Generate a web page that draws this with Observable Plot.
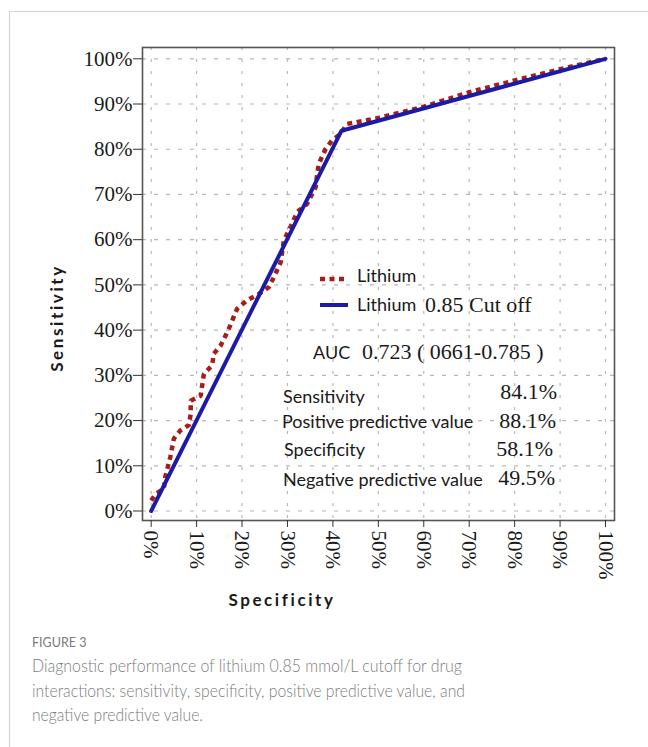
<!DOCTYPE html>
<html><head><meta charset="utf-8">
<script src="https://cdn.jsdelivr.net/npm/d3@7"></script>
<script src="https://cdn.jsdelivr.net/npm/@observablehq/plot@0.6"></script>
<style>
body{margin:0;background:#fff;}
#wrap{position:relative;width:648px;height:747px;overflow:hidden;background:#fff;}
#card{position:absolute;left:9px;top:11px;width:700px;height:800px;border-left:1px solid #d2d2d2;border-top:1px solid #d2d2d2;}
#chart{position:absolute;left:0;top:0;}
#overlay{position:absolute;left:0;top:0;pointer-events:none;}
</style></head><body>
<div id="wrap"><div id="card"></div><div id="chart"></div><svg id="overlay" width="648" height="747"></svg></div>
<script>
// ---- data ----
const tickValues = [0, 0.1, 0.2, 0.3, 0.4, 0.5, 0.6, 0.7, 0.8, 0.9, 1.0];
// Lithium ROC curve (1 - specificity on x, sensitivity on y)
const lithiumX = [0, 0.010, 0.028, 0.031, 0.042, 0.050, 0.064, 0.083, 0.087, 0.087, 0.109, 0.116, 0.134, 0.138, 0.153, 0.171, 0.189, 0.211, 0.237, 0.259, 0.270, 0.285, 0.292, 0.310, 0.321, 0.343, 0.362, 0.365, 0.369, 0.384, 0.398, 0.417, 0.431, 0.50, 0.60, 0.70, 0.80, 0.90, 1.0];
const lithiumY = [0.023, 0.038, 0.049, 0.075, 0.119, 0.160, 0.178, 0.190, 0.215, 0.244, 0.255, 0.303, 0.322, 0.348, 0.366, 0.403, 0.447, 0.466, 0.480, 0.495, 0.517, 0.550, 0.598, 0.635, 0.661, 0.679, 0.716, 0.742, 0.768, 0.801, 0.819, 0.834, 0.856, 0.869, 0.894, 0.926, 0.952, 0.977, 1.0];
// Lithium 0.85 cut-off
const cutoffX = [0, 0.419, 1];
const cutoffY = [0, 0.841, 1];
const seriesNames = ["Lithium", "Lithium"];
const cutoffSuffix = "0.85 Cut off";
const aucLabel = "AUC";
const aucValue = "0.723 ( 0661-0.785 )";
const statLabels = ["Sensitivity", "Positive predictive value", "Specificity", "Negative predictive value"];
const statValues = ["84.1%", "88.1%", "58.1%", "49.5%"];
const xTitle = "Specificity";
const yTitle = "Sensitivity";
const figLabel = "FIGURE 3";
const captionLines = [
  "Diagnostic performance of lithium 0.85 mmol/L cutoff for drug",
  "interactions: sensitivity, specificity, positive predictive value, and",
  "negative predictive value."
];

const RED = "#a61e1a", BLUE = "#1b1ba6";
const lithium = lithiumX.map((x, i) => ({x, y: lithiumY[i]}));
const cutoff = cutoffX.map((x, i) => ({x, y: cutoffY[i]}));
const pct = d3.format(".0%");

const chart = Plot.plot({
  width: 648,
  height: 620,
  marginLeft: 142,
  marginRight: 34,
  marginTop: 47,
  marginBottom: 100,
  style: {fontFamily: "'Liberation Serif', serif", fontSize: "21px", color: "#1a1a1a", background: "transparent"},
  x: {domain: [-0.0191, 1.0198]},
  y: {domain: [-0.021, 1.025]},
  marks: [
    Plot.gridX(tickValues, {stroke: "#b8b8b8", strokeOpacity: 1, strokeDasharray: "3,9", strokeWidth: 1.2}),
    Plot.gridY(tickValues, {stroke: "#b8b8b8", strokeOpacity: 1, strokeDasharray: "4,8", strokeWidth: 1.2}),
    Plot.line(lithium, {x: "x", y: "y", stroke: RED, strokeWidth: 4.5, strokeDasharray: "5,4.5", strokeLinecap: "butt", strokeLinejoin: "miter", curve: "linear"}),
    Plot.line(cutoff, {x: "x", y: "y", stroke: BLUE, strokeWidth: 4}),
    Plot.frame({stroke: "#555", strokeWidth: 1.6}),
    Plot.axisY(tickValues, {tickFormat: pct, tickSize: 9, tickPadding: 1, fontSize: 21, label: null, stroke: "#333"}),
    Plot.axisX(tickValues, {tickFormat: pct, tickSize: 7, tickPadding: 3, tickRotate: 90, fontSize: 21, label: null, stroke: "#333"})
  ]
});
document.getElementById("chart").appendChild(chart);

// ---- overlay annotations ----
const ov = d3.select("#overlay");
const SANS = "Lato, 'Open Sans', sans-serif";
const SERIF = "'Liberation Serif', serif";
function txt(x, y, s, o = {}) {
  const t = ov.append("text").attr("x", x).attr("y", y).text(s)
    .attr("font-family", o.family || SANS).attr("font-size", o.size || 18)
    .attr("fill", o.fill || "#1a1a1a").attr("font-weight", o.weight || 400)
    .attr("text-anchor", o.anchor || "start")
    .attr("letter-spacing", o.ls || 0);
  if (o.len) t.attr("textLength", o.len).attr("lengthAdjust", "spacingAndGlyphs");
  return t;
}
// legend
ov.append("line").attr("x1", 320).attr("x2", 348).attr("y1", 279).attr("y2", 279)
  .attr("stroke", RED).attr("stroke-width", 4.5).attr("stroke-dasharray", "5,4.5");
ov.append("line").attr("x1", 320).attr("x2", 348).attr("y1", 305).attr("y2", 305)
  .attr("stroke", BLUE).attr("stroke-width", 4);
txt(357, 282, seriesNames[0]);
txt(357, 311, seriesNames[1]);
txt(425, 312, cutoffSuffix, {family: SERIF, size: 22});
// AUC
txt(313, 359, aucLabel);
txt(362, 359, aucValue, {family: SERIF, size: 22});
// stats
const labX = [283, 282, 284, 283];
const labY = [403, 428, 456, 486];
const valX = [557, 556, 553, 555];
const valY = [399, 428, 456, 485];
statLabels.forEach((s, i) => txt(labX[i], labY[i], s));
statValues.forEach((s, i) => txt(valX[i], valY[i], s, {family: SERIF, size: 22, anchor: "end"}));
// axis titles
txt(282, 606, xTitle, {size: 17, weight: 700, anchor: "middle", ls: 2.6});
txt(0, 0, yTitle, {size: 17, weight: 700, anchor: "middle", ls: 2.6})
  .attr("transform", "translate(63,318) rotate(-90)");
// caption
txt(32, 647, figLabel, {size: 12.5, fill: "#7a7a7a", weight: 400});
const capY = [672, 696.5, 720.5];
const capLen = [430, 433, 171];
captionLines.forEach((s, i) => txt(32, capY[i], s, {size: 17.5, fill: "#7d7d7d", weight: 300, len: capLen[i]}));
</script>
</body></html>
